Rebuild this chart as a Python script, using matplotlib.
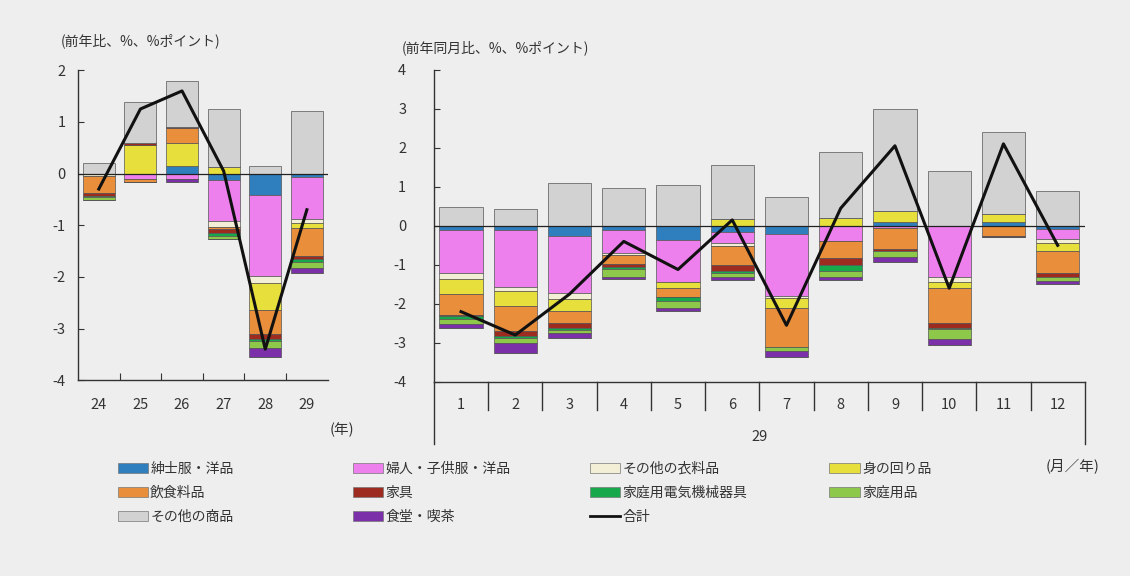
import numpy as np
import matplotlib
matplotlib.use("Agg")
import matplotlib.pyplot as plt
from matplotlib.patches import Patch
from matplotlib.lines import Line2D
import matplotlib.transforms as mtransforms

plt.rcParams['font.family'] = ['Noto Sans CJK JP', 'DejaVu Sans']
plt.rcParams['font.size'] = 10
plt.rcParams['axes.unicode_minus'] = False

# 系列名と色
names = ["紳士服・洋品", "婦人・子供服・洋品", "その他の衣料品", "身の回り品", "飲食料品",
         "家具", "家庭用電気機械器具", "家庭用品", "食堂・喫茶", "その他の商品"]
colors = ["#2f7ebd", "#ee80ee", "#f3efd6", "#e6df3c", "#e98f3c",
          "#9e2b1f", "#17a84b", "#8dc84b", "#7b2fa8", "#d2d2d2"]

# 左：年（前年比）
years = ["24", "25", "26", "27", "28", "29"]
y_blue = [0.0, 0.0, 0.15, -0.13, -0.42, -0.07]
y_pink = [0.0, -0.1, -0.1, -0.79, -1.56, -0.81]
y_cream = [-0.05, 0.0, 0.0, -0.11, -0.14, -0.07]
y_yellow = [0.0, 0.55, 0.45, 0.12, -0.53, -0.10]
y_orange = [-0.33, -0.07, 0.28, -0.04, -0.45, -0.55]
y_darkred = [-0.05, 0.05, 0.02, -0.08, -0.10, -0.05]
y_green = [-0.02, 0.0, 0.0, -0.05, -0.05, -0.07]
y_lightgreen = [-0.07, 0.0, 0.0, -0.07, -0.13, -0.10]
y_purple = [0.0, 0.0, -0.07, 0.0, -0.17, -0.10]
y_gray = [0.2, 0.78, 0.9, 1.13, 0.15, 1.22]
y_total = [-0.3, 1.25, 1.6, 0.05, -3.4, -0.7]

# 右：月（前年同月比）
months = ["1", "2", "3", "4", "5", "6", "7", "8", "9", "10", "11", "12"]
m_blue = [-0.1, -0.12, -0.25, -0.12, -0.37, -0.15, -0.22, 0.0, 0.1, 0.0, 0.1, -0.08]
m_pink = [-1.12, -1.45, -1.48, -0.58, -1.08, -0.3, -1.58, -0.38, -0.05, -1.3, 0.0, -0.27]
m_cream = [-0.15, -0.1, -0.14, -0.05, 0.0, -0.07, -0.05, 0.0, 0.0, -0.15, 0.0, -0.1]
m_yellow = [-0.38, -0.38, -0.31, 0.0, -0.15, 0.17, -0.25, 0.2, 0.28, -0.15, 0.2, -0.2]
m_orange = [-0.53, -0.65, -0.32, -0.23, -0.23, -0.48, -1.0, -0.44, -0.55, -0.9, -0.25, -0.55]
m_darkred = [-0.04, -0.13, -0.12, -0.07, 0.0, -0.15, 0.0, -0.18, -0.05, -0.12, -0.05, -0.1]
m_green = [-0.08, -0.05, -0.06, -0.05, -0.09, -0.05, 0.0, -0.17, 0.0, -0.03, 0.0, 0.0]
m_lightgreen = [-0.12, -0.12, -0.07, -0.2, -0.18, -0.12, -0.1, -0.13, -0.15, -0.25, 0.0, -0.12]
m_purple = [-0.1, -0.25, -0.12, -0.07, -0.08, -0.08, -0.15, -0.08, -0.13, -0.15, 0.0, -0.08]
m_gray = [0.47, 0.43, 1.1, 0.97, 1.05, 1.38, 0.75, 1.68, 2.62, 1.4, 2.1, 0.9]
m_total = [-2.2, -2.8, -1.75, -0.4, -1.12, 0.15, -2.55, 0.45, 2.05, -1.6, 2.1, -0.5]

left_series = [y_blue, y_pink, y_cream, y_yellow, y_orange, y_darkred, y_green, y_lightgreen, y_purple, y_gray]
right_series = [m_blue, m_pink, m_cream, m_yellow, m_orange, m_darkred, m_green, m_lightgreen, m_purple, m_gray]

bg = "#eeeeee"
fig = plt.figure(figsize=(11.3, 5.76), dpi=100, facecolor=bg)
ax1 = fig.add_axes([0.069, 0.340, 0.221, 0.538], facecolor=bg)
ax2 = fig.add_axes([0.384, 0.337, 0.576, 0.542], facecolor=bg)


def stacked(ax, series, total, width):
    x = np.arange(len(total))
    pos = np.zeros(len(total))
    neg = np.zeros(len(total))
    for vals, c in zip(series, colors):
        v = np.array(vals, dtype=float)
        p = np.where(v > 0, v, 0)
        n = np.where(v < 0, v, 0)
        ax.bar(x, p, width, bottom=pos, color=c, edgecolor="#555555", linewidth=0.5, zorder=2)
        ax.bar(x, n, width, bottom=neg, color=c, edgecolor="#555555", linewidth=0.5, zorder=2)
        pos += p
        neg += n
    ax.axhline(0, color="#222222", lw=0.9, zorder=3)
    ax.plot(x, total, color="#111111", lw=2.2, zorder=4)
    for s in ["top", "right"]:
        ax.spines[s].set_visible(False)
    for s in ["left", "bottom"]:
        ax.spines[s].set_color("#333333")
        ax.spines[s].set_linewidth(1.0)
    ax.set_xlim(-0.5, len(total) - 0.5)


# 左パネル
stacked(ax1, left_series, y_total, 0.77)
ax1.set_ylim(-4, 2)
ax1.set_yticks(range(-4, 3))
ax1.tick_params(axis="y", direction="in", length=4, pad=9, labelsize=10.5, colors="#333333")
ax1.set_xticks(np.arange(0.5, 5.5, 1))
ax1.set_xticklabels([])
ax1.tick_params(axis="x", direction="in", length=5, color="#333333")
trans1 = mtransforms.blended_transform_factory(ax1.transData, ax1.transAxes)
for i, lab in enumerate(years):
    ax1.text(i, -0.08, lab, transform=trans1, ha="center", va="center", fontsize=10.5, color="#333333")
ax1.text(-0.07, 1.07, "(前年比、%、%ポイント)", transform=ax1.transAxes, ha="left", va="bottom",
         fontsize=10, color="#333333")

# 右パネル
stacked(ax2, right_series, m_total, 0.8)
ax2.set_ylim(-4, 4)
ax2.set_yticks(range(-4, 5))
ax2.tick_params(axis="y", direction="in", length=4, pad=20, labelsize=10.5, colors="#333333")
ax2.set_xticks([])
trans2 = mtransforms.blended_transform_factory(ax2.transData, ax2.transAxes)
for i, lab in enumerate(months):
    ax2.text(i, -0.075, lab, transform=trans2, ha="center", va="center", fontsize=10.5, color="#333333")
for b in np.arange(0.5, 11.5, 1):
    ax2.plot([b, b], [0, -0.09], transform=trans2, color="#333333", lw=1.0, clip_on=False)
for b in [-0.5, 11.5]:
    ax2.plot([b, b], [0, -0.2], transform=trans2, color="#333333", lw=1.0, clip_on=False)
ax2.text(0.5, -0.175, "29", transform=ax2.transAxes, ha="center", va="center", fontsize=10.5, color="#333333")
ax2.text(-0.05, 1.045, "(前年同月比、%、%ポイント)", transform=ax2.transAxes, ha="left", va="bottom",
         fontsize=10, color="#333333")

fig.text(0.292, 0.253, "(年)", ha="left", va="center", fontsize=10.5, color="#333333")
fig.text(0.925, 0.19, "(月／年)", ha="left", va="center", fontsize=10.5, color="#333333")

# 凡例（4列）
handles = [Patch(facecolor=c, edgecolor="#777777", linewidth=0.5, label=n) for n, c in zip(names, colors)]
total_handle = Line2D([], [], color="#111111", lw=2, label="合計")
cols = [
    [handles[0], handles[4], handles[9]],
    [handles[1], handles[5], handles[8]],
    [handles[2], handles[6], total_handle],
    [handles[3], handles[7]],
]
col_x = [0.104, 0.312, 0.522, 0.734]
for hs, cx in zip(cols, col_x):
    fig.legend(handles=hs, loc="upper left", bbox_to_anchor=(cx, 0.198), frameon=False,
               borderpad=0, borderaxespad=0, handlelength=2.2, handletextpad=0.15,
               labelspacing=0.72, fontsize=10, labelcolor="#333333")

fig.savefig("out.png", dpi=100, facecolor=bg)
